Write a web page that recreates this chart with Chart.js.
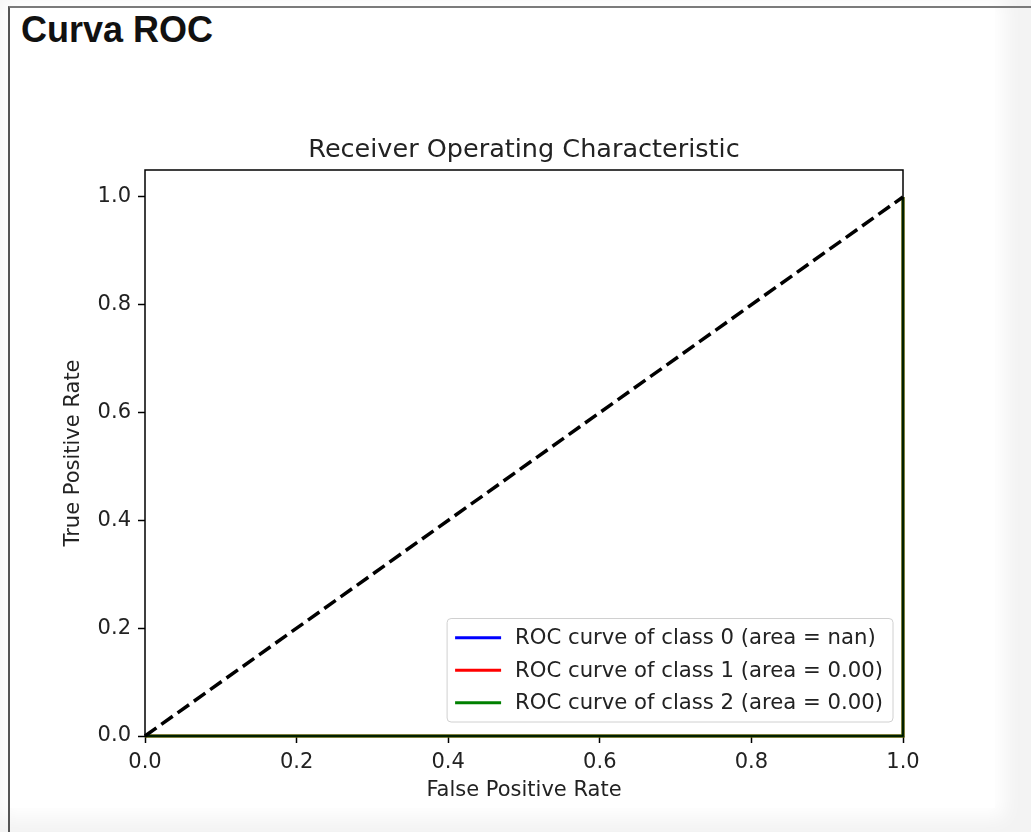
<!DOCTYPE html>
<html>
<head>
<meta charset="utf-8">
<script src="https://cdn.jsdelivr.net/npm/chart.js@4.4.1/dist/chart.umd.min.js"></script>
<style>
  html, body { margin: 0; padding: 0; }
  body { width: 1031px; height: 832px; background: #f3f3f3; position: relative; overflow: hidden; }
  .frame { position: absolute; left: 8px; top: 6px; width: 1100px; height: 900px;
           border-top: 2px solid #7a7a7a; border-left: 2px solid #555; }
  .paper { position: absolute; left: 10px; top: 8px; width: 985px; height: 800px;
           background: #fff; box-shadow: 0 0 18px 10px #fff; }
  h1 { position: absolute; left: 21px; top: 9px; margin: 0; font: bold 36px "Liberation Sans", Arial, sans-serif; color: #111; }
  #myChart { position: absolute; left: 0; top: 0; }
</style>
</head>
<body>
<div class="paper"></div>
<div class="frame"></div>
<h1>Curva ROC</h1>
<canvas id="myChart" width="1031" height="832"></canvas>
<script>
// data
const tickValuesX = [0, 0.2, 0.4, 0.6, 0.8, 1.0];
const tickValuesY = [0, 0.2, 0.4, 0.6, 0.8, 1.0];
const diagonalX = [0, 1];
const diagonalY = [0, 1];
const fpr0 = [0, 1];
const tpr0 = [null, null]; // nan, nothing drawn
const fpr1 = [0, 1, 1];
const tpr1 = [0, 0, 1];
const fpr2 = [0, 1, 1];
const tpr2 = [0, 0, 1];
const classLabels = [
  "ROC curve of class 0 (area = nan)",
  "ROC curve of class 1 (area = 0.00)",
  "ROC curve of class 2 (area = 0.00)",
];
const classColors = ["#0000ff", "#ff0000", "#008000"];

const FONT = '"DejaVu Sans", sans-serif';
const toPoints = (xs, ys) => xs.map((x, i) => ({ x: x, y: ys[i] }));

// title, axis labels, frame and legend (matplotlib style)
const mplDecor = {
  id: "mplDecor",
  afterDatasetsDraw(chart) {
    const { ctx, chartArea: a } = chart;
    ctx.save();
    ctx.strokeStyle = "#000";
    ctx.lineWidth = 1.5;
    ctx.strokeRect(a.left, a.top, a.right - a.left, a.bottom - a.top);
    ctx.restore();
  },
  afterDraw(chart) {
    const { ctx, chartArea: a } = chart;
    const cx = (a.left + a.right) / 2;
    ctx.save();
    ctx.fillStyle = "#222";
    ctx.textAlign = "center";
    ctx.textBaseline = "alphabetic";
    ctx.font = "25.5px " + FONT;
    ctx.fillText("Receiver Operating Characteristic", cx, a.top - 13);
    ctx.font = "21px " + FONT;
    ctx.fillText("False Positive Rate", cx, a.bottom + 60);
    ctx.save();
    ctx.translate(a.left - 66, (a.top + a.bottom) / 2);
    ctx.rotate(-Math.PI / 2);
    ctx.fillText("True Positive Rate", 0, 0);
    ctx.restore();

    // legend, lower right
    const sets = chart.data.datasets.filter(d => d.inLegend);
    ctx.font = "21.2px " + FONT;
    const textW = Math.max(...sets.map(d => ctx.measureText(d.label).width));
    const rowH = 32.5;
    const w = 8 + 46 + 14 + textW + 10;
    const h = rowH * sets.length + 6;
    const x0 = a.right - 10 - w;
    const y0 = a.bottom - 14 - h;
    ctx.fillStyle = "rgba(255,255,255,0.85)";
    ctx.strokeStyle = "#d0d0d0";
    ctx.lineWidth = 1;
    ctx.beginPath();
    ctx.roundRect(x0, y0, w, h, 4);
    ctx.fill();
    ctx.stroke();
    ctx.textAlign = "left";
    ctx.textBaseline = "middle";
    sets.forEach((d, i) => {
      const y = y0 + 3 + rowH * (i + 0.5);
      ctx.strokeStyle = d.borderColor;
      ctx.lineWidth = 3;
      ctx.beginPath();
      ctx.moveTo(x0 + 8, y);
      ctx.lineTo(x0 + 54, y);
      ctx.stroke();
      ctx.fillStyle = "#222";
      ctx.fillText(d.label, x0 + 68, y + 1);
    });
    ctx.restore();
  },
};

function axis(fitSide, fitSize, values) {
  return {
    type: "linear",
    afterFit(s) { s[fitSide] = fitSize; },
    afterBuildTicks(s) { s.ticks = values.map(v => ({ value: v })); },
    ticks: {
      callback: v => Number(v).toFixed(1),
      font: { family: FONT, size: 21 },
      color: "#222",
      padding: 7,
    },
    grid: { drawOnChartArea: false, drawTicks: true, tickLength: 7, tickColor: "#000", tickWidth: 1.5 },
    border: { display: false },
  };
}

const xAxis = Object.assign(axis("height", 96, tickValuesX), { min: 0, max: 1 });
const yAxis = Object.assign(axis("width", 145, tickValuesY), { min: 0, max: 1.05 });

new Chart(document.getElementById("myChart").getContext("2d"), {
  type: "scatter",
  data: {
    datasets: [
      { label: "diagonal", data: toPoints(diagonalX, diagonalY), borderColor: "#000",
        borderDash: [14, 6], borderWidth: 3.5, order: 0 },
      { label: classLabels[0], data: toPoints(fpr0, tpr0), borderColor: classColors[0], inLegend: true, order: 3 },
      { label: classLabels[1], data: toPoints(fpr1, tpr1), borderColor: classColors[1], inLegend: true, order: 2 },
      { label: classLabels[2], data: toPoints(fpr2, tpr2), borderColor: classColors[2], inLegend: true, order: 1 },
    ].map(d => Object.assign({ showLine: true, pointRadius: 0, borderWidth: 3, clip: false, fill: false }, d)),
  },
  options: {
    responsive: false,
    animation: false,
    layout: { padding: { left: 0, top: 170, right: 128, bottom: 0 } },
    plugins: { legend: { display: false }, tooltip: { enabled: false } },
    scales: { x: xAxis, y: yAxis },
  },
  plugins: [mplDecor],
});
</script>
</body>
</html>
